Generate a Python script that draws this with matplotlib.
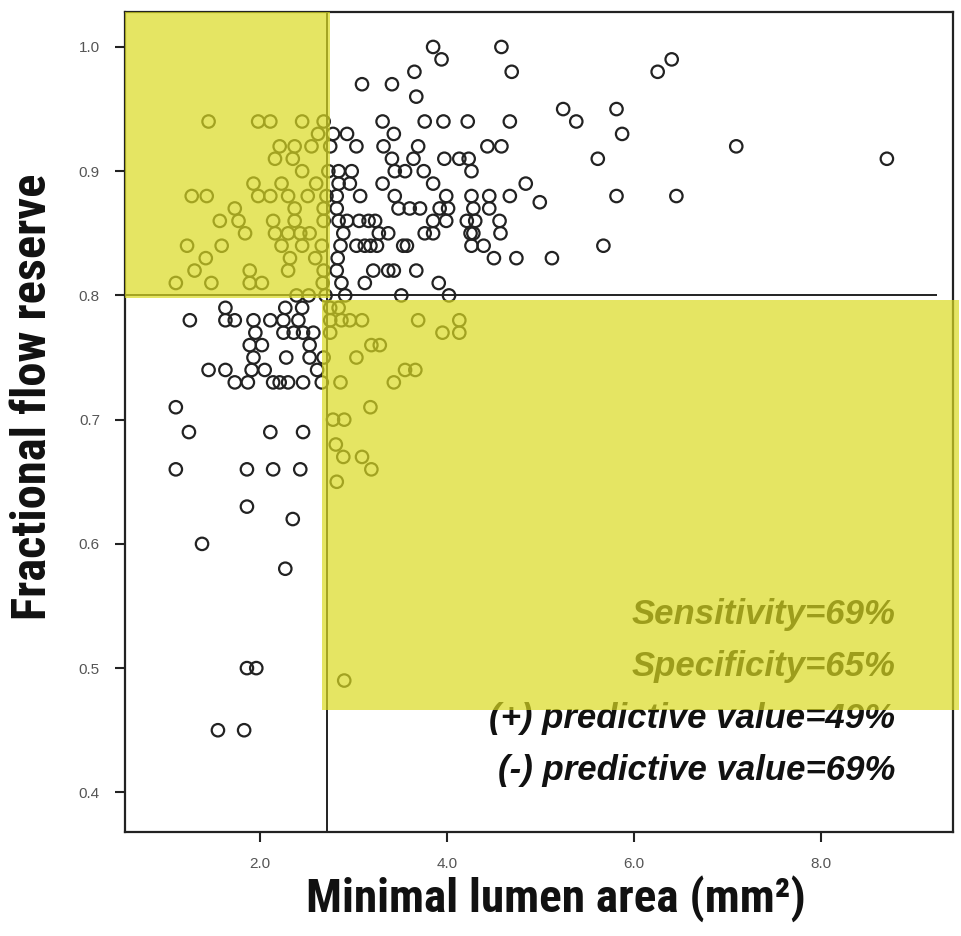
import matplotlib
matplotlib.use('Agg')
import matplotlib.pyplot as plt
from matplotlib.patches import Rectangle
from matplotlib import font_manager

# FFR levels and the minimal lumen areas (mm2) of the lesions at each level
ffr_levels = [1.00, 0.99, 0.98, 0.97, 0.96, 0.95, 0.94, 0.93, 0.92, 0.91,
              0.90, 0.89, 0.88, 0.875, 0.87, 0.86, 0.85, 0.84, 0.83, 0.82,
              0.81, 0.80, 0.79, 0.78, 0.77, 0.76, 0.75, 0.74, 0.73, 0.71,
              0.70, 0.69, 0.68, 0.67, 0.66, 0.65, 0.63, 0.62, 0.60, 0.58,
              0.50, 0.49, 0.45]
mla_rows = [
    [3.85, 4.58],
    [3.94, 6.40],
    [3.65, 4.69, 6.25],
    [3.09, 3.41],
    [3.67],
    [5.24, 5.81],
    [1.45, 1.98, 2.11, 2.45, 2.68, 3.31, 3.76, 3.96, 4.22, 4.67, 5.38],
    [2.62, 2.78, 2.93, 3.43, 5.87],
    [2.21, 2.37, 2.55, 2.75, 3.03, 3.32, 3.69, 4.43, 4.58, 7.09],
    [2.16, 2.35, 3.41, 3.64, 3.97, 4.13, 4.23, 5.61, 8.70],
    [2.45, 2.73, 2.84, 2.98, 3.44, 3.55, 3.75, 4.26],
    [1.93, 2.23, 2.60, 2.84, 2.96, 3.31, 3.85, 4.84],
    [1.27, 1.43, 1.98, 2.11, 2.30, 2.51, 2.71, 2.82, 3.07, 3.44, 3.99, 4.26,
     4.45, 4.67, 5.81, 6.45],
    [4.99],
    [1.73, 2.37, 2.68, 2.82, 3.48, 3.60, 3.71, 3.92, 4.01, 4.28, 4.45],
    [1.57, 1.77, 2.14, 2.37, 2.68, 2.84, 2.93, 3.06, 3.16, 3.23, 3.85, 3.99,
     4.21, 4.30, 4.56],
    [1.84, 2.16, 2.30, 2.43, 2.53, 2.89, 3.27, 3.37, 3.76, 3.85, 4.25, 4.28,
     4.57],
    [1.22, 1.59, 2.23, 2.45, 2.66, 2.86, 3.03, 3.12, 3.18, 3.25, 3.53, 3.57,
     4.26, 4.39, 5.67],
    [1.42, 2.32, 2.59, 2.83, 4.50, 4.74, 5.12],
    [1.30, 1.89, 2.30, 2.68, 2.82, 3.21, 3.37, 3.43, 3.67],
    [1.10, 1.48, 1.89, 2.02, 2.67, 2.87, 3.12, 3.91],
    [2.39, 2.52, 2.70, 2.91, 3.51, 4.02],
    [1.63, 2.27, 2.45, 2.75, 2.84],
    [1.25, 1.63, 1.73, 1.93, 2.11, 2.25, 2.41, 2.75, 2.87, 2.96, 3.09, 3.69,
     4.13],
    [1.95, 2.25, 2.36, 2.46, 2.57, 2.75, 3.95, 4.13],
    [1.89, 2.02, 2.53, 3.19, 3.28],
    [1.93, 2.28, 2.53, 2.68, 3.03],
    [1.45, 1.63, 1.91, 2.05, 2.61, 3.55, 3.66],
    [1.73, 1.87, 2.14, 2.21, 2.30, 2.46, 2.66, 2.86, 3.43],
    [1.10, 3.18],
    [2.78, 2.90],
    [1.24, 2.11, 2.46],
    [2.81],
    [2.89, 3.09],
    [1.10, 1.86, 2.14, 2.43, 3.19],
    [2.82],
    [1.86],
    [2.35],
    [1.38],
    [2.27],
    [1.86, 1.96],
    [2.90],
    [1.55, 1.83],
]

mla_cutoff = 2.72
ffr_cutoff = 0.80
x_ticks = [2.0, 4.0, 6.0, 8.0]
y_ticks = [0.4, 0.5, 0.6, 0.7, 0.8, 0.9, 1.0]
stats_text = ['Sensitivity=69%', 'Specificity=65%',
              '(+) predictive value=49%', '(-) predictive value=69%']

mla = [m for row in mla_rows for m in row]
ffr = [f for f, row in zip(ffr_levels, mla_rows) for _ in row]

# pick a condensed sans face if one is installed
names = {f.name for f in font_manager.fontManager.ttflist}
narrow = [n for n in ['Roboto Condensed', 'Liberation Sans Narrow',
                      'Open Sans Condensed', 'DejaVu Sans'] if n in names]
arial = [n for n in ['Liberation Sans', 'DejaVu Sans'] if n in names]

fig = plt.figure(figsize=(9.61, 9.36), dpi=100)
ax = fig.add_axes([0.130, 0.111, 0.862, 0.876])
xmin, xmax = 0.556, 9.41
ymin, ymax = 0.368, 1.028

ax.scatter(mla, ffr, s=80, facecolors='none', edgecolors='#222222',
           linewidths=1.6, zorder=2)

# cut-off lines
ax.axvline(mla_cutoff, color='#111111', lw=1.3, zorder=1)
ax.hlines(ffr_cutoff, xmin, 9.24, color='#111111', lw=1.3, zorder=1)

# statistics text (under the yellow overlay)
for i, t in enumerate(stats_text):
    ax.text(8.79, 0.543 - i * 0.0418, t, ha='right', va='center',
            fontsize=25, fontweight='bold', style='italic',
            family=arial, color='#111111', zorder=1)

# yellow quadrants
yellow = (218/255, 218/255, 33/255)
ax.add_patch(Rectangle((xmin, 0.798), 2.75 - xmin, ymax - 0.798,
                       facecolor=yellow, edgecolor='none', alpha=0.7,
                       zorder=3, clip_on=False))
ax.add_patch(Rectangle((2.66, 0.466), 9.47 - 2.66, 0.796 - 0.466,
                       facecolor=yellow, edgecolor='none', alpha=0.7,
                       zorder=3, clip_on=False))

ax.set_xlim(xmin, xmax)
ax.set_ylim(ymin, ymax)
ax.set_xticks(x_ticks)
ax.set_xticklabels([f'{v:.1f}' for v in x_ticks])
ax.set_yticks(y_ticks)
ax.set_yticklabels([f'{v:.1f}' for v in y_ticks])
ax.tick_params(direction='out', length=7, width=1.5, color='#222222',
               labelsize=11, labelcolor='#555555', pad=11)
for lab in ax.get_xticklabels() + ax.get_yticklabels():
    lab.set_family(arial)

for sp in ax.spines.values():
    sp.set_linewidth(1.6)
    sp.set_color('#222222')

fig.text(0.034, 0.576, 'Fractional flow reserve', rotation=90,
         ha='center', va='center', fontsize=35, fontweight='bold',
         family=narrow, fontstretch='condensed', color='#111111')
fig.text(0.578, 0.040, 'Minimal lumen area (mm\u00b2)',
         ha='center', va='center', fontsize=34, fontweight='bold',
         family=narrow, fontstretch='condensed', color='#111111')

fig.savefig('out.png', dpi=100)
